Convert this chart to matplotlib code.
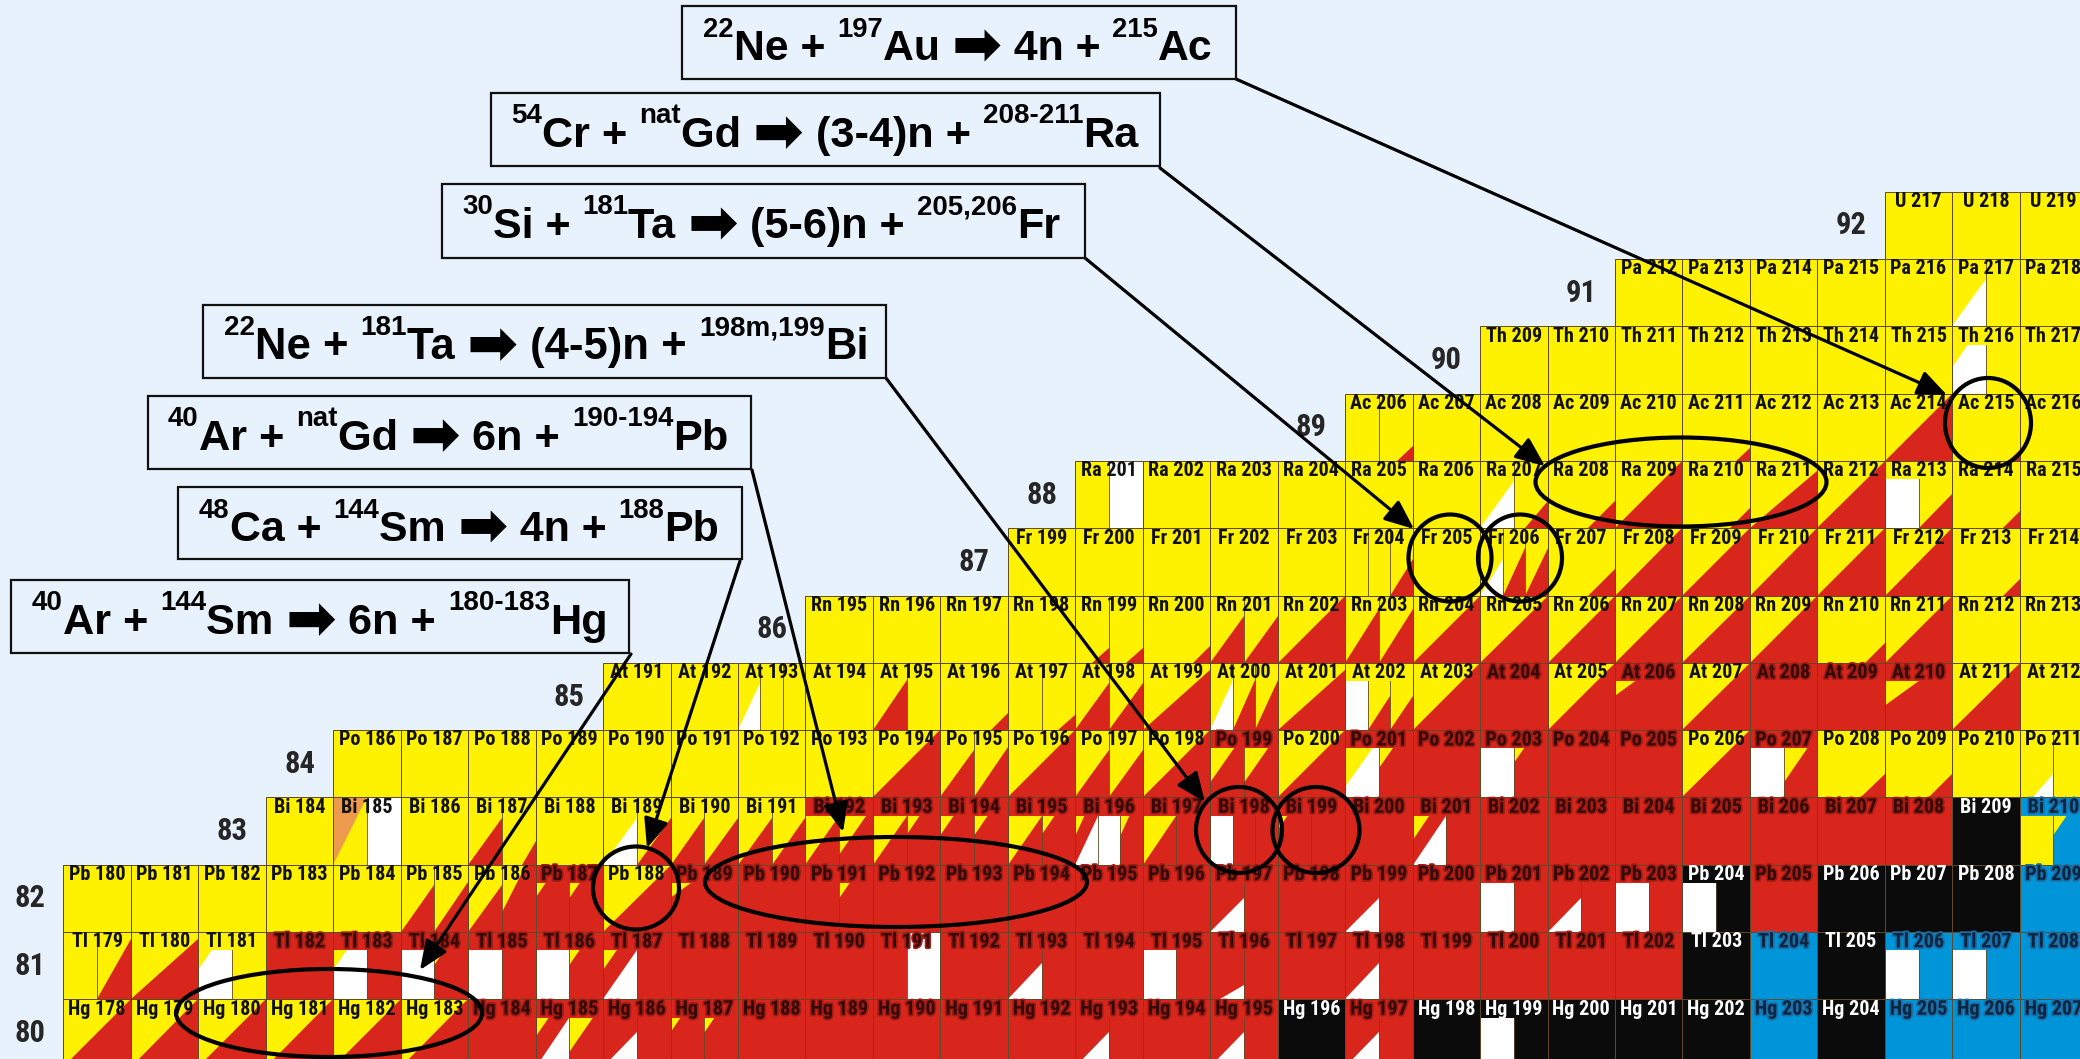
import re
import matplotlib
matplotlib.use("Agg")
import matplotlib.pyplot as plt
import matplotlib.patheffects as pe
from matplotlib import font_manager as fm
from matplotlib.patches import Rectangle, Polygon, Ellipse, FancyArrowPatch
from matplotlib.transforms import IdentityTransform

# Section of the chart of nuclides, Z = 80..92
symbols = ['U', 'Pa', 'Th', 'Ac', 'Ra', 'Fr', 'Rn', 'At', 'Po', 'Bi', 'Pb', 'Tl', 'Hg']
z_rows = [92, 91, 90, 89, 88, 87, 86, 85, 84, 83, 82, 81, 80]
first_n = [125, 121, 119, 117, 113, 112, 109, 106, 102, 101, 98, 98, 98]

# cell codes: parts split by '|', first letter = base colour, then letter+size
# pairs = lower-right triangles; 'X:' prefix = colour of the label band
# y alpha, r beta+/EC, k stable, b beta-, w isomeric transition, o proton
u_cells = ['y', 'y', 'y']
pa_cells = ['y', 'y', 'y', 'y', 'y', 'yw1/0.7|y', 'y']
th_cells = ['y', 'y', 'y', 'y', 'y', 'y', 'y', 'Y:yw1.55|y', 'y']
ac_cells = ['y|yr0.45/0.22', 'y', 'y', 'y', 'y', 'yr0.2', 'y', 'y', 'yr1', 'yr0.17', 'y']
ra_cells = ['y|w', 'y', 'y', 'y', 'y', 'y', 'yw1/0.7|yr0.66/0.4', 'yr0.4', 'yr1', 'yr0.3',
            'yr1/0.85', 'yr1', 'Y:w|yr1/0.7', 'yr0.25', 'y']
fr_cells = ['y', 'y', 'y', 'y', 'y', 'y|y|yr1/0.55', 'y', 'yw1/0.55|yr1/0.7|yr1/0.7', 'yr0.4',
            'yr1', 'yr1', 'yr1', 'yr1', 'yr1', 'yr0.25', 'y']
rn_cells = ['y', 'y', 'y', 'y', 'yr0.5/0.22|yr0.5/0.22', 'yr0.25', 'yr1/0.7|yr1/0.7', 'yr1',
            'yr1/0.8|yr1/0.8', 'yr1', 'yr1', 'yr1', 'yr1', 'yr1', 'yr1', 'yr0.3', 'yr1', 'y', 'y']
at_cells = ['y', 'y', 'yw1/0.7|y|y', 'y', 'yr1/0.75|y', 'yr0.25', 'y|yr0.5/0.22',
            'yr1/0.7|yr1/0.7', 'yr1/0.9', 'yw1/0.75|yr1/0.75|yr1/0.75', 'yr1/0.9',
            'Y:w|yr1/0.7|yr1/0.7', 'yr1', 'R:r', 'yr1', 'R:yr1.7', 'yr1', 'R:r', 'R:r',
            'R:yr1.5', 'yr1', 'y']
po_cells = ['y', 'y', 'y', 'y', 'y', 'y', 'y', 'y', 'yr1', 'yr1/0.7|yr1/0.75', 'yr1',
            'yr1/0.7|yr1/0.7', 'yr1', 'R:yr1.3|yr1.3', 'yr1', 'R:yw1.2|yr1.6', 'R:r',
            'R:w|yr1.7', 'R:r', 'R:r', 'yr1', 'R:w|yr1.3', 'yr0.35', 'yr0.35', 'y',
            'yw0.6/0.35|y']
bi_cells = ['y', 'oy1|w', 'y', 'yr1/0.7|yr0.4/0.35', 'y', 'yw1/0.7|yr1/0.7',
            'yr1/0.7|yr1/0.7', 'yr1/0.7|yr1/0.7', 'R:yr1|yr1.2', 'R:yr1|yr1.6',
            'R:yr1.6|yr1.6', 'R:yr1|yr1.6', 'R:yr1.6w1|w|yr1.6', 'R:yr1|r', 'R:w|r|r',
            'R:yr1.7|r', 'R:r', 'R:yr1.5w1|r', 'R:r', 'R:r', 'R:r', 'R:r', 'R:r', 'R:r',
            'R:r', 'k', 'B:y|yb1.6']
pb_cells = ['y', 'y', 'y', 'y', 'y', 'yr1/0.7|yr1/0.75', 'yr1/0.7|yr1.3', 'R:yr1.7|yr1.7',
            'yr1', 'R:yr1.7', 'R:r', 'R:r|yr1.7', 'R:r', 'R:r', 'R:r', 'R:r', 'R:r',
            'R:rw1/0.7|r', 'R:r', 'R:rw1/0.7|r', 'R:r', 'R:w|r', 'R:rw1/0.7|r', 'R:w|r',
            'K:w|k', 'R:r', 'k', 'k', 'k', 'B:b']
tl_cells = ['y|yr1/0.9', 'yr1/0.9', 'Y:yw1.6|y', 'R:r', 'R:yw1.6|r', 'R:w|yr1.7', 'R:w|r',
            'R:w|yr1.7', 'R:yr1.6w1|r', 'R:r', 'R:r', 'R:r', 'r|w', 'R:r', 'R:rw1/0.75|r',
            'R:r', 'R:w|r', 'R:rw0.7/0.3|r', 'R:r', 'R:rw1/0.75|r', 'R:r', 'R:r', 'R:r',
            'R:r', 'k', 'B:b', 'k', 'B:w|b', 'B:w|b', 'B:b']
hg_cells = ['yr1', 'yr1', 'yr1', 'yr1', 'yr1', 'yr1', 'R:r', 'R:yr1.6w1|yr1.3',
            'R:rw1/0.7|r', 'R:yr1.7|yr1.7', 'R:r', 'R:r', 'R:r', 'R:r', 'R:r',
            'R:rw1/0.7|r', 'R:r', 'R:rw1/0.7|r', 'k', 'R:rw1/0.7|r', 'k', 'K:w|k', 'k',
            'k', 'k', 'B:b', 'k', 'B:b', 'B:b', 'B:b']
row_cells = [u_cells, pa_cells, th_cells, ac_cells, ra_cells, fr_cells, rn_cells,
             at_cells, po_cells, bi_cells, pb_cells, tl_cells, hg_cells]

# reactions: (text, kind) with kind 's' = superscript, 'a' = arrow, '' = normal
ARW = '\u27a1'
reactions = [
    [('22', 's'), ('Ne + ', ''), ('197', 's'), ('Au ', ''), (ARW, 'a'), (' 4n + ', ''), ('215', 's'), ('Ac', '')],
    [('54', 's'), ('Cr + ', ''), ('nat', 's'), ('Gd ', ''), (ARW, 'a'), (' (3-4)n + ', ''), ('208-211', 's'), ('Ra', '')],
    [('30', 's'), ('Si + ', ''), ('181', 's'), ('Ta ', ''), (ARW, 'a'), (' (5-6)n + ', ''), ('205,206', 's'), ('Fr', '')],
    [('22', 's'), ('Ne + ', ''), ('181', 's'), ('Ta ', ''), (ARW, 'a'), (' (4-5)n + ', ''), ('198m,199', 's'), ('Bi', '')],
    [('40', 's'), ('Ar + ', ''), ('nat', 's'), ('Gd ', ''), (ARW, 'a'), (' 6n + ', ''), ('190-194', 's'), ('Pb', '')],
    [('48', 's'), ('Ca + ', ''), ('144', 's'), ('Sm ', ''), (ARW, 'a'), (' 4n + ', ''), ('188', 's'), ('Pb', '')],
    [('40', 's'), ('Ar + ', ''), ('144', 's'), ('Sm ', ''), (ARW, 'a'), (' 6n + ', ''), ('180-183', 's'), ('Hg', '')],
]

# layout in pixels (from the top-left corner)
box_rects = [(682, 1236, 6, 79), (491, 1160, 93, 166), (442, 1085, 184, 258),
             (203, 886, 305, 378), (148, 751, 396, 469), (178, 742, 487, 559),
             (11, 629, 580, 653)]
text_spans = [(703, 1213), (511, 1138), (462, 1061), (224, 869), (168, 729),
              (199, 720), (32, 608)]
arrow_lines = [((1236, 79), (1947, 395)), ((1160, 168), (1545, 466)),
               ((1085, 258), (1414, 529)), ((886, 378), (1205, 802)),
               ((752, 470), (843, 832)), ((740, 561), (647, 848)),
               ((631, 654), (420, 970))]
ellipses = [(1988, 423, 86, 90), (1681, 482, 291, 89), (1450, 558, 83, 87),
            (1520, 558, 84, 87), (1239, 830, 86, 86), (1316, 830, 87, 86),
            (636, 888, 86, 83), (896, 882, 382, 90), (329, 1013, 306, 88)]

COL = {'y': '#FFF200', 'r': '#D9261C', 'k': '#0B0B0B', 'b': '#0094D9',
       'w': '#FFFFFF', 'o': '#EE9A4D'}
BG = '#E8F2FC'
EDGE = '#5e4a2a'

W, H = 2080, 1059
X0, Y0 = 63.4, 191.8   # pixel of the N=98 left edge and of the Z=92 top edge
PN, PZ = 67.46, 67.3   # cell pitch in pixels
BAND = 0.27


def dx(px):
    return 98 + (px - X0) / PN


def dy(py):
    return 93 - (py - Y0) / PZ


# narrow bold font for the cell labels, if one is installed
narrow, stretch, lab_size, zlab_size = 'DejaVu Sans', 'normal', 10.5, 16
for f in fm.fontManager.ttflist:
    if f.name in ('Liberation Sans Narrow', 'Arial Narrow', 'Roboto Condensed'):
        narrow, stretch, lab_size, zlab_size = f.name, 'normal', 14.5, 22
        break
else:
    for f in fm.fontManager.ttflist:
        if f.name == 'DejaVu Sans' and 'condensed' in str(f.stretch) and f.weight in ('bold', 700):
            narrow, stretch, lab_size, zlab_size = 'DejaVu Sans', 'condensed', 11.5, 18
            break
main_font = 'Liberation Sans'

fig = plt.figure(figsize=(W / 100, H / 100), dpi=100)
fig.patch.set_facecolor(BG)
ax = fig.add_axes([0, 0, 1, 1])
ax.set_facecolor(BG)
ax.set_xlim(dx(0), dx(W))
ax.set_ylim(dy(H), dy(0))
ax.axis('off')

pat = re.compile(r'([a-z])([0-9.]+)(?:/([0-9.]+))?')


def draw_cell(n, z, sym, code):
    band = None
    if ':' in code:
        band, code = code.split(':')
    parts = code.split('|')
    k = len(parts)
    body = 1 - BAND if band else 1.0
    for i, seg in enumerate(parts):
        x0 = n + i / k
        w = 1 / k
        ax.add_patch(Rectangle((x0, z), w, 1, fc=COL[seg[0]], lw=0, zorder=1))
        clip = Rectangle((x0, z), w, 1, transform=ax.transData)
        for c, fx, fy in pat.findall(seg[1:]):
            fx = float(fx)
            fy = float(fy) if fy else fx
            tri = Polygon([(x0 + w - fx * w, z), (x0 + w, z), (x0 + w, z + fy * body)],
                          closed=True, fc=COL[c], lw=0, zorder=2)
            ax.add_patch(tri)
            tri.set_clip_path(clip)
        if i > 0:
            ax.plot([x0, x0], [z, z + 1], color=EDGE, lw=0.6, zorder=3)
    if band:
        ax.add_patch(Rectangle((n, z + 1 - BAND), 1, BAND, fc=COL[band.lower()], lw=0, zorder=3))
    ax.add_patch(Rectangle((n, z), 1, 1, fill=False, ec=EDGE, lw=0.7, zorder=3))

    top = band.lower() if band else parts[0][0]
    effects = None
    if top == 'k':
        tc = 'white'
    elif top == 'r':
        tc = '#350a06'
        effects = [pe.withStroke(linewidth=2.5, foreground='#a31c14')]
    elif top == 'b':
        tc = '#0a2540'
        effects = [pe.withStroke(linewidth=2.5, foreground='#1a6fa8')]
    else:
        tc = '#111111'
    ax.text(n + 0.5, z + 1 - BAND / 2 - 0.01, f'{sym} {z + n}', ha='center', va='center',
            fontsize=lab_size, family=narrow, fontstretch=stretch, weight='bold', color=tc,
            path_effects=effects, zorder=4)


for sym, z, n0, cells in zip(symbols, z_rows, first_n, row_cells):
    for j, code in enumerate(cells):
        draw_cell(n0 + j, z, sym, code)
    ax.text(n0 - 0.5, z + 0.5, str(z), ha='center', va='center', fontsize=zlab_size,
            family=narrow, fontstretch=stretch, weight='bold', color='#262626', zorder=4)

# arrows and circles
for (p0, p1) in arrow_lines:
    ar = FancyArrowPatch((dx(p0[0]), dy(p0[1])), (dx(p1[0]), dy(p1[1])),
                         arrowstyle='-|>,head_length=0.9,head_width=0.38',
                         mutation_scale=20, lw=2.3, color='black',
                         shrinkA=0, shrinkB=0, zorder=6)
    ax.add_patch(ar)

for cx, cy, ew, eh in ellipses:
    ax.add_patch(Ellipse((dx(cx), dy(cy)), ew / PN, eh / PZ, fill=False,
                         ec='black', lw=3.0, zorder=7))

# reaction boxes
for (x0, x1, y0, y1) in box_rects:
    ax.add_patch(Rectangle((dx(x0), dy(y1)), (x1 - x0) / PN, (y1 - y0) / PZ,
                           fc=BG, ec='#111111', lw=1.6, zorder=8))

rend = fig.canvas.get_renderer()


def run_width(txt, size, family):
    t = fig.text(0, 0, txt + '|', fontsize=size, family=family, weight='bold',
                 transform=IdentityTransform())
    t2 = fig.text(0, 0, '|', fontsize=size, family=family, weight='bold',
                  transform=IdentityTransform())
    w = t.get_window_extent(rend).width - t2.get_window_extent(rend).width
    t.remove()
    t2.remove()
    return w


def run_style(kind, size):
    if kind == 's':
        return size * 0.64, main_font
    if kind == 'a':
        return size * 1.4, 'DejaVu Sans'
    return size, main_font


def total_width(runs, size):
    return sum(run_width(txt, *run_style(kind, size)) for txt, kind in runs)


for runs, (x0, x1, y0, y1), (t0, t1) in zip(reactions, box_rects, text_spans):
    size = 25
    size = size * (t1 - t0) / total_width(runs, size)
    base = H - (y0 + 54)
    rise = 0.545 * size * 100 / 72
    x = t0
    for txt, kind in runs:
        fs, fam = run_style(kind, size)
        yb = base + rise if kind == 's' else base
        if kind == 'a':
            yb = base - 0.08 * fs * 100 / 72
        fig.text(x, yb, txt, fontsize=fs, family=fam, weight='bold', color='black',
                 ha='left', va='baseline', transform=IdentityTransform(), zorder=9)
        x += run_width(txt, fs, fam)

fig.savefig('out.png', dpi=100, facecolor=BG)
